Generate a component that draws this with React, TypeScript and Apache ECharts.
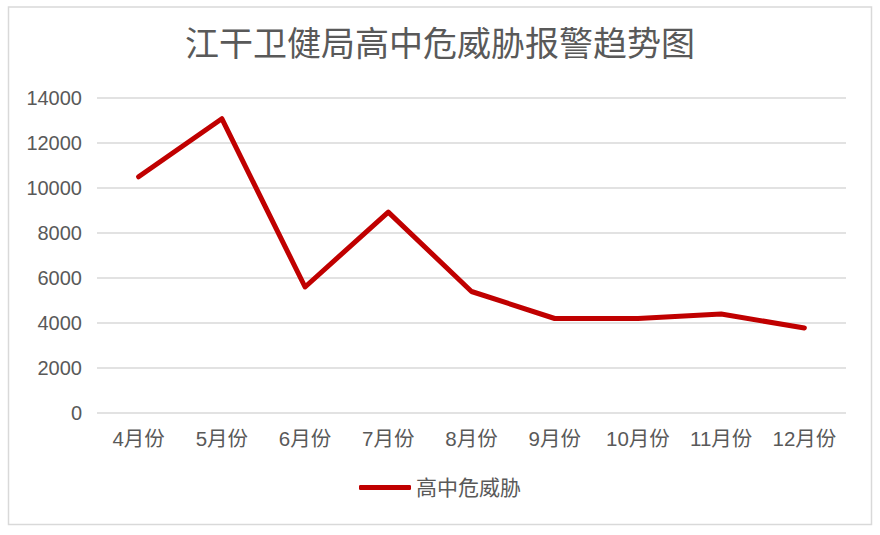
import React, { useEffect, useRef } from "react";
import * as echarts from "echarts";

const title = "江干卫健局高中危威胁报警趋势图";
const seriesName = "高中危威胁";
const months = ["4月份", "5月份", "6月份", "7月份", "8月份", "9月份", "10月份", "11月份", "12月份"];
const values = [10500, 13080, 5600, 8930, 5400, 4200, 4200, 4400, 3780];
const yTicks = [0, 2000, 4000, 6000, 8000, 10000, 12000, 14000];

const FONT = "'Liberation Sans', 'Noto Sans CJK SC', sans-serif";
const TXT = "#595959";

export default function App() {
  const ref = useRef<HTMLDivElement>(null);
  useEffect(() => {
    if (!ref.current) return;
    const chart = echarts.init(ref.current, null, { renderer: "svg" });
    chart.setOption({
      animation: false,
      backgroundColor: "#ffffff",
      title: {
        text: title,
        left: "center",
        top: 22,
        textStyle: { fontFamily: FONT, fontSize: 34, fontWeight: "normal", color: TXT },
      },
      graphic: [
        {
          type: "rect",
          shape: { x: 8.5, y: 7, width: 863, height: 517.5 },
          style: { fill: "none", stroke: "#d9d9d9", lineWidth: 1.5 },
          silent: true,
        },
      ],
      grid: { left: 97, right: 34, top: 98, bottom: 122, containLabel: false },
      legend: {
        bottom: 32,
        left: "center",
        itemWidth: 52,
        itemHeight: 5,
        itemGap: 7,
        textStyle: { fontFamily: FONT, fontSize: 21, color: TXT },
        data: [{ name: seriesName, icon: "roundRect" }],
      },
      xAxis: {
        type: "category",
        data: months,
        boundaryGap: true,
        axisLine: { show: false },
        axisTick: { show: false },
        axisLabel: {
          fontFamily: FONT,
          fontSize: 20.5,
          color: TXT,
          margin: 15,
          interval: 0,
          hideOverlap: false,
        },
      },
      yAxis: {
        type: "value",
        min: yTicks[0],
        max: yTicks[yTicks.length - 1],
        interval: 2000,
        axisLine: { show: false },
        axisTick: { show: false },
        axisLabel: {
          fontFamily: FONT,
          fontSize: 20,
          color: TXT,
          margin: 15,
          formatter: (v: number) => String(v),
        },
        splitLine: { lineStyle: { color: "#d9d9d9", width: 1.5 } },
      },
      series: [
        {
          name: seriesName,
          type: "line",
          data: values,
          symbol: "none",
          lineStyle: { color: "#c00000", width: 5, cap: "round", join: "round" },
          itemStyle: { color: "#c00000" },
        },
      ],
    });
    return () => chart.dispose();
  }, []);
  return (
    <div
      ref={ref}
      style={{ position: "fixed", left: 0, top: 0, width: 880, height: 535 }}
    />
  );
}
